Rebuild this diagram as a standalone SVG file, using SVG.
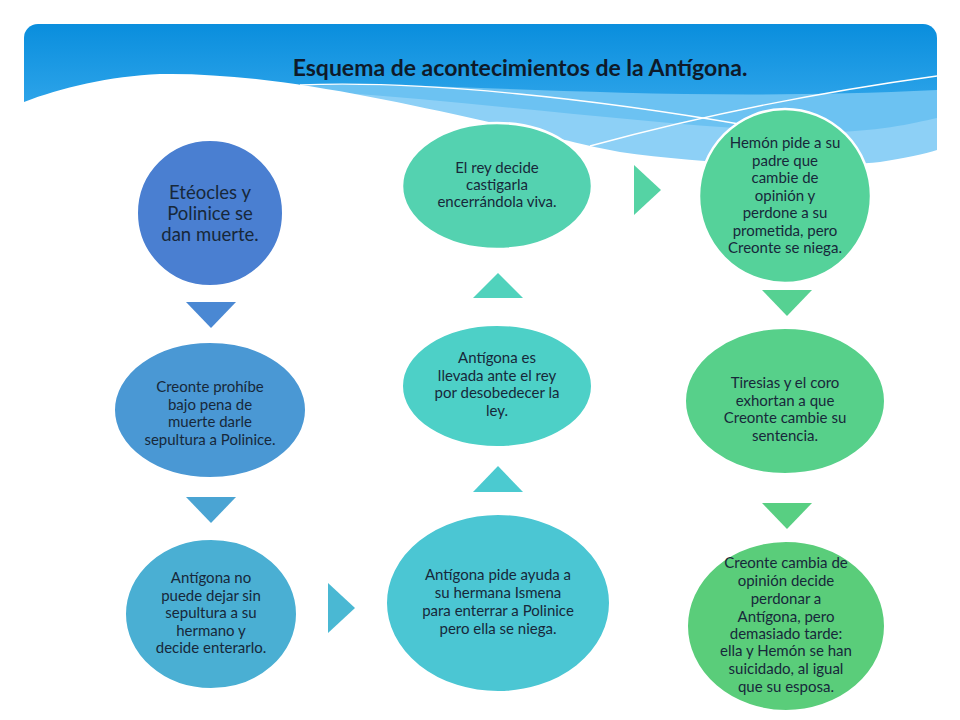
<svg xmlns="http://www.w3.org/2000/svg" width="960" height="720" viewBox="0 0 960 720">
<defs>
<linearGradient id="hdr" x1="0" y1="24" x2="0" y2="170" gradientUnits="userSpaceOnUse">
<stop offset="0" stop-color="#0A8EDD"/>
<stop offset="0.5" stop-color="#2AA2E8"/>
<stop offset="1" stop-color="#4DB4EE"/>
</linearGradient>
<clipPath id="hclip"><rect x="24" y="24" width="913" height="300" rx="14"/></clipPath>
<style>
.node{stroke:#fff;stroke-width:2}
.t{font-family:Lato,"Liberation Sans",sans-serif;fill:#17283A;text-anchor:middle}
.s{font-size:15px}
.title{font-family:Lato,"Liberation Sans",sans-serif;font-weight:bold;font-size:23px;fill:#0E1A2A;text-anchor:middle}
</style>
</defs>
<rect width="960" height="720" fill="#fff"/>
<g id="header">
<g clip-path="url(#hclip)">
<rect x="24" y="24" width="913" height="200" fill="url(#hdr)"/>
<path d="M290,86 C450,80 650,104 937,90 L937,224 L290,224 Z" fill="#6CC2F2"/>
<path d="M330,92 C480,102 640,124 800,132 C870,134 910,124 937,118 L937,224 L330,224 Z" fill="#8DD0F6"/>
<path d="M24,102 C60,88 110,76 160,74 C260,72 380,98 480,120 C540,133 580,145 620,152 C700,164 820,168 880,162 C905,158 925,154 937,150 L937,224 L24,224 Z" fill="#fff"/>
<path d="M300,85 C430,80 600,100 745,125" fill="none" stroke="#fff" stroke-width="1.3"/>
<path d="M590,146 C700,116 820,92 937,76" fill="none" stroke="#fff" stroke-width="1.3"/>
</g>
<text class="title" x="520" y="76">Esquema de acontecimientos de la Antígona.</text>
</g>
<g id="connectors">
<polygon points="186,302 236,302 211,328" fill="#4A88D3"/>
<polygon points="186,497 236,497 211,523" fill="#4AA4D3"/>
<polygon points="328,583 328,633 355,608" fill="#4AB8D3"/>
<polygon points="473,492 523,492 498,466" fill="#4BCAD0"/>
<polygon points="473,298 523,298 498,273" fill="#50D2BC"/>
<polygon points="634,165 634,215 661,190" fill="#55D3A4"/>
<polygon points="762,290 812,290 787,316" fill="#56D192"/>
<polygon points="762,503 812,503 787,529" fill="#58CF82"/>
</g>
<g id="n1">
<ellipse class="node" cx="210" cy="213" rx="73" ry="73" fill="#4A7FD1"/>
<text class="t" style="font-size:18.5px"><tspan x="210" y="199">Etéocles y</tspan><tspan x="210" y="220">Polinice se</tspan><tspan x="210" y="241">dan muerte.</tspan></text>
</g>
<g id="n2">
<ellipse class="node" cx="210" cy="410" rx="96" ry="68" fill="#4A98D4"/>
<text class="t s"><tspan x="210" y="392">Creonte prohíbe</tspan><tspan x="210" y="410">bajo pena de</tspan><tspan x="210" y="427">muerte darle</tspan><tspan x="210" y="445">sepultura a Polinice.</tspan></text>
</g>
<g id="n3">
<ellipse class="node" cx="211" cy="614" rx="86" ry="75" fill="#4AAFD3"/>
<text class="t s"><tspan x="211" y="583">Antígona no</tspan><tspan x="211" y="601">puede dejar sin</tspan><tspan x="211" y="618">sepultura a su</tspan><tspan x="211" y="636">hermano y</tspan><tspan x="211" y="653">decide enterarlo.</tspan></text>
</g>
<g id="n4">
<ellipse class="node" cx="498" cy="603" rx="112" ry="89" fill="#4BC6D3"/>
<text class="t s"><tspan x="498" y="580">Antígona pide ayuda a</tspan><tspan x="498" y="598">su hermana Ismena</tspan><tspan x="498" y="616">para enterrar a Polinice</tspan><tspan x="498" y="634">pero ella se niega.</tspan></text>
</g>
<g id="n5">
<ellipse class="node" cx="497" cy="386" rx="95" ry="61" fill="#4DD0C7"/>
<text class="t s"><tspan x="497" y="363">Antígona es</tspan><tspan x="497" y="381">llevada ante el rey</tspan><tspan x="497" y="398">por desobedecer la</tspan><tspan x="497" y="416">ley.</tspan></text>
</g>
<g id="n6">
<ellipse class="node" cx="497" cy="186" rx="95" ry="63" fill="#54D2B0" style="stroke-width:2.5"/>
<text class="t s"><tspan x="497" y="173">El rey decide</tspan><tspan x="497" y="190">castigarla</tspan><tspan x="497" y="207">encerrándola viva.</tspan></text>
</g>
<g id="n7">
<ellipse class="node" cx="785" cy="196" rx="86" ry="87" fill="#55D29A" style="stroke-width:2.5"/>
<text class="t s"><tspan x="785" y="148">Hemón pide a su</tspan><tspan x="785" y="166">padre que</tspan><tspan x="785" y="183">cambie de</tspan><tspan x="785" y="201">opinión y</tspan><tspan x="785" y="218">perdone a su</tspan><tspan x="785" y="236">prometida, pero</tspan><tspan x="785" y="253">Creonte se niega.</tspan></text>
</g>
<g id="n8">
<ellipse class="node" cx="785" cy="401" rx="100" ry="73" fill="#57D08A"/>
<text class="t s"><tspan x="785" y="388">Tiresias y el coro</tspan><tspan x="785" y="406">exhortan a que</tspan><tspan x="785" y="423">Creonte cambie su</tspan><tspan x="785" y="441">sentencia.</tspan></text>
</g>
<g id="n9">
<ellipse class="node" cx="786" cy="626" rx="99" ry="85" fill="#5ACD7A"/>
<text class="t s"><tspan x="786" y="568">Creonte cambia de</tspan><tspan x="786" y="586">opinión decide</tspan><tspan x="786" y="604">perdonar a</tspan><tspan x="786" y="622">Antígona, pero</tspan><tspan x="786" y="639">demasiado tarde:</tspan><tspan x="786" y="656">ella y Hemón se han</tspan><tspan x="786" y="674">suicidado, al igual</tspan><tspan x="786" y="692">que su esposa.</tspan></text>
</g>
</svg>
